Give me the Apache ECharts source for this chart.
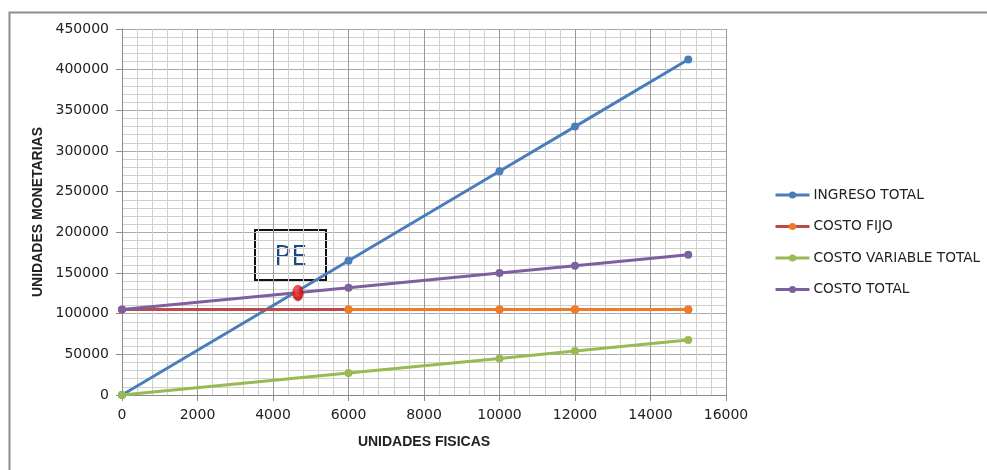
<!DOCTYPE html>
<html>
<head>
<meta charset="utf-8">
<script src="https://cdn.jsdelivr.net/npm/echarts@6/dist/echarts.min.js"></script>
<style>
  html, body { margin: 0; padding: 0; background: #fff; }
  #chart { width: 987px; height: 470px; }
</style>
</head>
<body>
<div id="chart"></div>
<script>
// Break-even analysis: revenue vs. fixed, variable and total cost
const unidades = [0, 6000, 10000, 12000, 15000];
const ingresoTotal = [0, 165000, 275000, 330000, 412500];
const costoFijo = [105000, 105000, 105000, 105000, 105000];
const costoVariableTotal = [0, 27000, 45000, 54000, 67500];
const costoTotal = [105000, 132000, 150000, 159000, 172500];
const puntoEquilibrio = [4660, 125500];

const xTicks = { min: 0, max: 16000, step: 2000 };
const yTicks = { min: 0, max: 450000, step: 50000 };

const pairs = (ys) => unidades.map((x, i) => [x, ys[i]]);

const BLUE = '#4A7EBB', RED = '#BE4B48', ORANGE = '#EC7B2B', GREEN = '#98B954', PURPLE = '#7D60A0';
const TICK_FONT = 'DejaVu Sans';
const plain = (v) => String(v);

const chart = echarts.init(document.getElementById('chart'), null, { renderer: 'canvas' });

const lineSeries = (name, ys, color, markerColor) => ({
  name: name,
  type: 'line',
  data: pairs(ys),
  symbol: 'circle',
  symbolSize: 8,
  showSymbol: true,
  lineStyle: { color: color, width: 3 },
  itemStyle: { color: markerColor || color },
  emphasis: { disabled: true },
  animation: false
});

const fijoTramo = pairs(costoFijo).filter(p => p[0] >= 6000);

chart.setOption({
  animation: false,
  backgroundColor: '#fff',
  grid: { left: 122, right: 261, top: 29, bottom: 75, containLabel: false },
  legend: {
    orient: 'vertical',
    left: 769,
    top: 183,
    itemWidth: 34,
    itemHeight: 9,
    itemGap: 17.5,
    itemStyle: {},
    lineStyle: { width: 3 },
    data: ['INGRESO TOTAL', 'COSTO FIJO', 'COSTO VARIABLE TOTAL', 'COSTO TOTAL'],
    textStyle: { fontFamily: TICK_FONT, fontSize: 13.7, color: '#222', padding: [0, 0, 0, -1] }
  },
  xAxis: {
    type: 'value',
    min: xTicks.min, max: xTicks.max, interval: xTicks.step,
    name: 'UNIDADES FISICAS',
    nameLocation: 'middle',
    nameGap: 40,
    nameTextStyle: { fontFamily: 'Liberation Sans', fontWeight: 'bold', fontSize: 14, color: '#222' },
    axisLine: { show: true, lineStyle: { color: '#8a8a8a', width: 1 } },
    axisTick: { show: true, length: 6, lineStyle: { color: '#8a8a8a' } },
    axisLabel: { fontFamily: TICK_FONT, fontSize: 14, color: '#222', margin: 13, formatter: plain },
    splitLine: { show: true, lineStyle: { color: '#9a9a9a', width: 1 } },
    minorTick: { show: false, splitNumber: 5 },
    minorSplitLine: { show: true, lineStyle: { color: '#d0d0d0', width: 1 } }
  },
  yAxis: {
    type: 'value',
    min: yTicks.min, max: yTicks.max, interval: yTicks.step,
    name: 'UNIDADES MONETARIAS',
    nameLocation: 'middle',
    nameGap: 77,
    nameRotate: 90,
    nameTextStyle: { fontFamily: 'Liberation Sans', fontWeight: 'bold', fontSize: 14, color: '#222' },
    axisLine: { show: true, lineStyle: { color: '#8a8a8a', width: 1 } },
    axisTick: { show: true, length: 6, lineStyle: { color: '#8a8a8a' } },
    axisLabel: { fontFamily: TICK_FONT, fontSize: 14, color: '#222', margin: 13, formatter: plain },
    splitLine: { show: true, lineStyle: { color: '#ababab', width: 1 } },
    minorTick: { show: false, splitNumber: 5 },
    minorSplitLine: { show: true, lineStyle: { color: '#d0d0d0', width: 1 } }
  },
  series: [
    lineSeries('INGRESO TOTAL', ingresoTotal, BLUE),
    lineSeries('COSTO FIJO', costoFijo, RED, ORANGE),
    {
      // right-hand stretch of the fixed-cost line is drawn in orange
      name: 'tramoFijo',
      type: 'line',
      data: fijoTramo,
      symbol: 'circle',
      symbolSize: 8,
      lineStyle: { color: ORANGE, width: 3 },
      itemStyle: { color: ORANGE },
      emphasis: { disabled: true },
      animation: false
    },
    lineSeries('COSTO VARIABLE TOTAL', costoVariableTotal, GREEN),
    lineSeries('COSTO TOTAL', costoTotal, PURPLE),
    {
      name: 'PE',
      type: 'scatter',
      data: [puntoEquilibrio],
      symbol: 'circle',
      symbolSize: [11, 16],
      z: 10,
      itemStyle: {
        color: new echarts.graphic.RadialGradient(0.4, 0.35, 0.7, [
          { offset: 0, color: '#ff5a5a' },
          { offset: 0.6, color: '#f00000' },
          { offset: 1, color: '#b80000' }
        ]),
        shadowColor: 'rgba(0,0,0,0.25)',
        shadowBlur: 2,
        shadowOffsetY: 1
      },
      emphasis: { disabled: true },
      animation: false
    }
  ],
  graphic: [
    {
      type: 'rect',
      left: 7, top: 10,
      shape: { width: 1100, height: 600 },
      style: { fill: 'none', stroke: '#8c8c8c', lineWidth: 2 },
      z: -1, silent: true
    },
    {
      type: 'group',
      left: 254, top: 229,
      z: 20,
      children: [
        {
          type: 'rect',
          shape: { x: 0, y: 0, width: 71, height: 50 },
          style: { fill: '#fff', stroke: '#111', lineWidth: 2 }
        },
        {
          type: 'text',
          x: 35.5, y: 27,
          style: {
            text: 'PE',
            fontFamily: 'Open Sans',
            fontSize: 28,
            fill: '#1F497D',
            align: 'center',
            verticalAlign: 'middle'
          }
        }
      ]
    }
  ]
});
</script>
</body>
</html>
